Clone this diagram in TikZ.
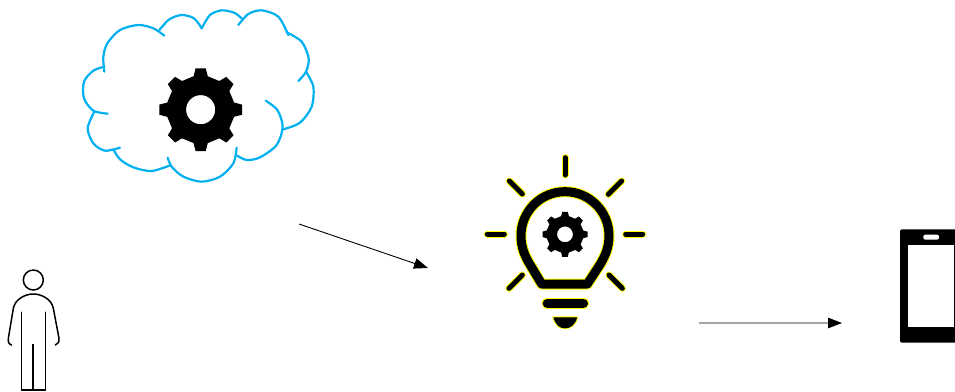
\documentclass[tikz,border=0pt]{standalone}
\usetikzlibrary{arrows.meta}
\definecolor{cloudblue}{HTML}{00B0F0}
\definecolor{glow}{HTML}{FFFF00}
\tikzstyle{cloudline}=[draw=cloudblue, line width=2.2pt, line cap=round]
\tikzstyle{glowing}=[preaction={draw=glow, line width=#1+2pt, line cap=round, line join=round}, draw=black, line width=#1, line cap=round, line join=round]
\tikzstyle{glowfill}=[preaction={draw=glow, line width=1.8pt, line join=round}, fill=black]
\tikzstyle{flow}=[-{Triangle[length=14pt,width=10.5pt]}, line width=0.9pt]
\tikzstyle{personline}=[line width=1.5pt, line cap=round]
\tikzset{gear/.pic={
    \path [pic actions, even odd rule] (-12:.82)
        \foreach \a in {0,45,...,315} { -- (\a-12:.82) -- (\a-7:1) -- (\a+7:1) -- (\a+12:.82) }
        -- cycle (0,0) circle (.35);
}}

\begin{document}
\begin{tikzpicture}[x=1pt, y=-1pt]
    \clip (0,0) rectangle (955,391);
    \begin{scope}[shift={(70,0)}, x=1pt/3, y=-1pt/3]
        \draw [cloudline] plot [smooth] coordinates {(283,107) (250,85) (205,75) (150,90) (112,130) (100,170) (103,215)};
        \draw [cloudline] plot [smooth] coordinates {(268,90) (298,58) (335,45) (372,55) (395,85)};
        \draw [cloudline] plot [smooth] coordinates {(395,85) (420,45) (455,31) (492,38) (515,55)};
        \draw [cloudline] plot [smooth] coordinates {(505,75) (535,42) (575,31) (625,50) (655,105)};
        \draw [cloudline] plot [smooth] coordinates {(650,97) (695,125) (716,175) (708,215) (685,243)};
        \draw [cloudline] plot [smooth] coordinates {(708,215) (730,260) (725,320) (690,368) (640,388)};
        \draw [cloudline] plot [smooth] coordinates {(587,302) (622,330) (638,380) (620,435) (570,472) (530,480) (498,465)};
        \draw [cloudline] plot [smooth] coordinates {(500,443) (490,490) (450,530) (395,545) (340,530) (305,500) (293,473)};
        \draw [cloudline] plot [smooth] coordinates {(303,495) (245,513) (190,502) (150,478) (130,448)};
        \draw [cloudline] plot [smooth] coordinates {(150,443) (105,452) (70,430) (53,385) (73,335)};
        \draw [cloudline] plot [smooth] coordinates {(113,341) (70,332) (42,295) (42,245) (70,212) (103,200)};
        \pic (cloudgear) [fill=black, scale=125] at (392,329) {gear};
        \coordinate (cloudout) at (687,672);
    \end{scope}
    \begin{scope}[shift={(470,145)}, x=1pt/3, y=-1pt/3]
        \foreach \xa/\ya/\xb/\yb in {285/38/285/90, 455/108/415/148, 118/108/157/147, 52/267/103/267, 467/267/518/267, 117/430/157/390, 417/390/457/430} {
            \draw [glowing=5pt] (\xa,\ya) -- (\xb,\yb);
        }
        \draw [glowing=9pt] (215,417) -- (182,362) .. controls (163,332) and (153,305) .. (153,272) arc (180:360:132) .. controls (417,305) and (407,332) .. (388,362) -- (352,417) -- cycle;
        \pic (bulbgear) [glowfill, scale=68] at (285,268) {gear};
        \draw [glowing=9.5pt] (232,475) -- (340,475);
        \path [glowfill] (250,517) -- (322,517) .. controls (315,540) and (302,550) .. (285,550) .. controls (268,550) and (257,540) .. (250,517) -- cycle;
        \coordinate (bulbin) at (-126,369);
        \coordinate (bulbout) at (687,534);
    \end{scope}
    \begin{scope}[shift={(0,260)}, x=1pt/3, y=-1pt/3]
        \draw [personline] (100,60) circle (30);
        \draw [personline] (35,255) .. controls (25,252) and (24,245) .. (25,235) -- (40,145) .. controls (45,118) and (75,102) .. (100,102) .. controls (125,102) and (155,118) .. (160,145) -- (177,235) .. controls (178,245) and (175,252) .. (166,255);
        \draw [personline] (64,157) -- (64,390) -- (137,390) -- (137,157);
        \draw [line width=2.2pt] (100,252) -- (100,390);
    \end{scope}
    \begin{scope}[shift={(885,220)}, x=1pt/3, y=-1pt/3]
        \fill [black, rounded corners=2pt] (45,28) rectangle (240,368);
        \fill [white] (68,75) rectangle (207,320);
        \fill [white, rounded corners=2pt] (115,44) rectangle (162,59);
    \end{scope}
    \coordinate (phonein) at (842,323);
    \draw [flow] (cloudout) -- (bulbin);
    \draw [flow] (bulbout) -- (phonein);
\end{tikzpicture}
\end{document}
